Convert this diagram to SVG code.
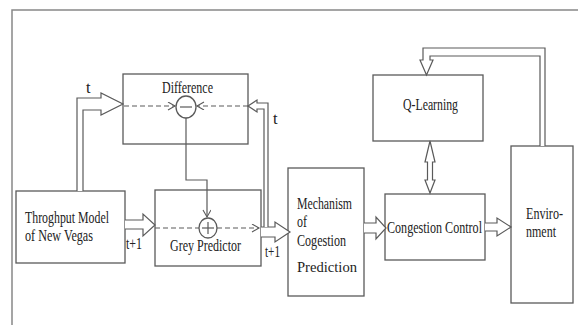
<svg xmlns="http://www.w3.org/2000/svg" width="578" height="325" viewBox="0 0 578 325">
<defs>
<style>
.box{fill:#fff;stroke:#5a5a5a;stroke-width:1.3}
.arr{fill:#fff;stroke:#5a5a5a;stroke-width:1.2;stroke-linejoin:miter}
.ln{fill:none;stroke:#5a5a5a;stroke-width:1.2}
.dash{fill:none;stroke:#5a5a5a;stroke-width:1.2;stroke-dasharray:5,3}
.t{font-family:"Liberation Serif","Times New Roman",serif;font-size:16.5px;fill:#222}
</style>
<marker id="v" markerWidth="10" markerHeight="10" refX="8" refY="4" orient="auto" markerUnits="userSpaceOnUse">
<path d="M1,0 L8,4 L1,8" fill="none" stroke="#5a5a5a" stroke-width="1.1"/>
</marker>
</defs>
<rect width="578" height="325" fill="#fff"/>
<g id="frame">
<path d="M12,325 V10 H578" fill="none" stroke="#888" stroke-width="1.5"/>
</g>
<g id="difference">
<rect class="box" x="123" y="74" width="125" height="70"/>
<text class="t" x="162" y="93" textLength="51" lengthAdjust="spacingAndGlyphs">Difference</text>
<ellipse class="box" cx="186" cy="107" rx="10" ry="11"/>
<line class="ln" x1="180" y1="107" x2="192" y2="107"/>
</g>
<g id="throughput">
<rect class="box" x="16" y="191" width="109" height="72"/>
<text class="t" x="25" y="223" textLength="84" lengthAdjust="spacingAndGlyphs">Throghput Model</text>
<text class="t" x="25" y="241" textLength="68" lengthAdjust="spacingAndGlyphs">of New Vegas</text>
</g>
<g id="grey">
<rect class="box" x="155" y="190" width="106" height="76"/>
<text class="t" x="170" y="251" textLength="71" lengthAdjust="spacingAndGlyphs">Grey Predictor</text>
<ellipse class="box" cx="208" cy="228" rx="9" ry="10"/>
<line class="ln" x1="202" y1="228" x2="214" y2="228"/>
<line class="ln" x1="208" y1="222" x2="208" y2="234"/>
</g>
<g id="mechanism">
<rect class="box" x="288" y="168" width="76" height="128"/>
<text class="t" x="297" y="209" textLength="55" lengthAdjust="spacingAndGlyphs">Mechanism</text>
<text class="t" x="297" y="227" textLength="10" lengthAdjust="spacingAndGlyphs">of</text>
<text class="t" x="297" y="246" textLength="49" lengthAdjust="spacingAndGlyphs">Cogestion</text>
<text x="297" y="272" textLength="60" lengthAdjust="spacingAndGlyphs" style="font-family:'Liberation Serif',serif;font-size:14px;fill:#222">Prediction</text>
</g>
<g id="congestion">
<rect class="box" x="385" y="194" width="100" height="66"/>
<text class="t" x="387" y="233" textLength="95" lengthAdjust="spacingAndGlyphs">Congestion Control</text>
</g>
<g id="qlearning">
<rect class="box" x="373" y="75" width="110" height="66"/>
<text class="t" x="403" y="110" textLength="55" lengthAdjust="spacingAndGlyphs">Q-Learning</text>
</g>
<g id="environment">
<rect class="box" x="511" y="146" width="62" height="157"/>
<text class="t" x="526" y="219" textLength="37" lengthAdjust="spacingAndGlyphs">Enviro-</text>
<text class="t" x="526" y="237" textLength="30" lengthAdjust="spacingAndGlyphs">nment</text>
</g>
<g id="connectors">
<path class="arr" d="M77,191 V98 H101 V93 L123,104 L101,115 V110 H83 V191"/>
<text class="t" x="86" y="93">t</text>
<path class="dash" d="M124,106 H175" marker-end="url(#v)"/>
<path class="dash" d="M248,106 H197" marker-end="url(#v)"/>
<path class="ln" d="M186,118 V180 H207 V217" marker-end="url(#v)"/>
<path class="arr" d="M125,220 H143 V214 L155,225 L143,236 V229 H125"/>
<text class="t" x="126" y="249" textLength="16" lengthAdjust="spacingAndGlyphs">t+1</text>
<path class="dash" d="M155,228 H199"/>
<path class="dash" d="M217,228 H259" marker-end="url(#v)"/>
<path class="arr" d="M261,227 H275 V222 L290,232 L275,242 V237 H261"/>
<path class="arr" d="M268,227 V103 H257 V100 L248,106 L257,112 V109 H264 V227"/>
<text class="t" x="273" y="124">t</text>
<text class="t" x="265" y="257" textLength="15" lengthAdjust="spacingAndGlyphs">t+1</text>
<path class="arr" d="M364,223 H376 V217 L386,228 L376,239 V233 H364"/>
<path class="arr" d="M485,223 H497 V218 L511,227 L497,236 V231 H485"/>
<path class="arr" d="M430,141 L435,162 H432.5 V180 H435 L430,193 L425,180 H427.5 V162 H425 Z"/>
<path class="arr" d="M545,146 V48 H423 V60 H420 L426.5,75 L433,60 H430 V56 H540 V146"/>
</g>
</svg>
